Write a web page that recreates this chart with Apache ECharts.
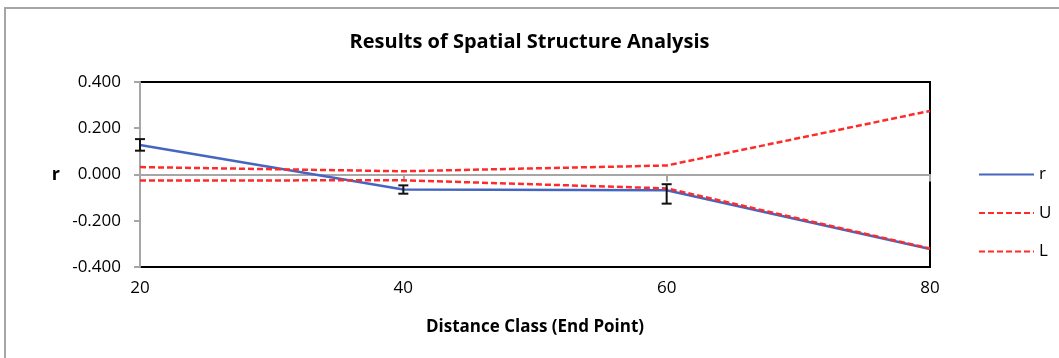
<!DOCTYPE html>
<html>
<head>
<meta charset="utf-8">
<script src="https://cdn.jsdelivr.net/npm/echarts@6/dist/echarts.min.js"></script>
<style>
  html, body { margin: 0; padding: 0; background: #fff; }
  #chart { width: 1059px; height: 358px; }
</style>
</head>
<body>
<div id="chart"></div>
<script>
// distance class end points
const distClass = [20, 40, 60, 80];
// correlogram values
const rValues = [0.128, -0.065, -0.068, -0.322];
const uValues = [0.032, 0.014, 0.039, 0.275];
const lValues = [-0.026, -0.025, -0.060, -0.320];
// bootstrap error bar ends (null = no bar)
const errUpper = [0.153, -0.047, -0.042, null];
const errLower = [0.103, -0.083, -0.126, null];
const yTicks = [-0.4, -0.2, 0, 0.2, 0.4];

const font = '"Open Sans", sans-serif';
const zip = (xs, ys) => xs.map((x, i) => [x, ys[i]]);

const myChart = echarts.init(document.getElementById('chart'));

const option = {
  animation: false,
  title: {
    text: 'Results of Spatial Structure Analysis',
    left: 'center',
    top: 27,
    textStyle: { fontFamily: font, fontSize: 20, fontWeight: 'bold', color: '#000' },
  },
  legend: {
    orient: 'vertical',
    left: 973,
    top: 161,
    itemWidth: 55,
    itemHeight: 14,
    itemGap: 21.5,
    itemStyle: { opacity: 0 },
    textStyle: { fontFamily: font, fontSize: 17, color: '#000' },
    data: ['r', 'U', 'L'],
  },
  grid: {
    left: 140,
    right: 129,
    top: 82,
    bottom: 91,
    show: true,
    borderColor: '#000',
    borderWidth: 2,
  },
  xAxis: [
    {
      type: 'value',
      min: 20,
      max: 80,
      interval: 20,
      axisLine: { show: false, onZero: false },
      axisTick: { show: false },
      splitLine: { show: false },
      axisLabel: { margin: 13, fontFamily: font, fontSize: 17, color: '#000' },
      name: 'Distance Class (End Point)',
      nameLocation: 'middle',
      nameGap: 52,
      nameTextStyle: { fontFamily: font, fontSize: 17, fontWeight: 'bold', color: '#000' },
    },
    {
      type: 'value',
      min: 20,
      max: 80,
      interval: 20,
      position: 'bottom',
      axisLine: { show: true, onZero: true, lineStyle: { color: '#a6a6a6', width: 2 } },
      axisTick: { show: true, length: 7, lineStyle: { color: '#a6a6a6', width: 2 } },
      axisLabel: { show: false },
      splitLine: { show: false },
    },
  ],
  yAxis: {
    type: 'value',
    min: -0.4,
    max: 0.4,
    interval: 0.2,
    axisLine: { show: true, lineStyle: { color: '#a6a6a6', width: 2 } },
    axisTick: { show: true, length: 6, lineStyle: { color: '#a6a6a6', width: 2 } },
    splitLine: { show: false },
    axisLabel: {
      margin: 19,
      fontFamily: font,
      fontSize: 17,
      color: '#000',
      formatter: (v) => (yTicks.some((t) => Math.abs(t - v) < 1e-9) ? v.toFixed(3) : ''),
    },
    name: 'r',
    nameLocation: 'middle',
    nameRotate: 0,
    nameGap: 80,
    nameTextStyle: { fontFamily: font, fontSize: 18, fontWeight: 'bold', color: '#000' },
  },
  series: [
    {
      name: 'U',
      type: 'line',
      symbol: 'none',
      lineStyle: { color: '#ff2a2a', width: 2.5, type: [6, 3] },
      itemStyle: { color: '#ff2a2a' },
      data: zip(distClass, uValues),
      z: 3,
    },
    {
      name: 'r',
      type: 'line',
      symbol: 'none',
      lineStyle: { color: '#4466c0', width: 2.5 },
      itemStyle: { color: '#4466c0' },
      data: zip(distClass, rValues),
      z: 2,
    },
    {
      name: 'L',
      type: 'line',
      symbol: 'none',
      lineStyle: { color: '#ff2a2a', width: 2.5, type: [6, 3] },
      itemStyle: { color: '#ff2a2a' },
      data: zip(distClass, lValues),
      z: 3,
    },
    {
      name: 'err',
      type: 'custom',
      z: 4,
      data: distClass
        .map((x, i) => [x, errLower[i], errUpper[i]])
        .filter((d) => d[1] !== null),
      renderItem: (params, api) => {
        const lo = api.coord([api.value(0), api.value(1)]);
        const hi = api.coord([api.value(0), api.value(2)]);
        const w = 5;
        const style = { stroke: '#111', lineWidth: 2 };
        return {
          type: 'group',
          children: [
            { type: 'line', shape: { x1: hi[0], y1: hi[1], x2: lo[0], y2: lo[1] }, style },
            { type: 'line', shape: { x1: hi[0] - w, y1: hi[1], x2: hi[0] + w, y2: hi[1] }, style },
            { type: 'line', shape: { x1: lo[0] - w, y1: lo[1], x2: lo[0] + w, y2: lo[1] }, style },
          ],
        };
      },
    },
  ],
  graphic: [
    {
      type: 'rect',
      shape: { x: 5, y: 8, width: 1100, height: 400 },
      style: { fill: 'none', stroke: '#a6a6a6', lineWidth: 2 },
      silent: true,
    },
  ],
};

option && myChart.setOption(option);
</script>
</body>
</html>
